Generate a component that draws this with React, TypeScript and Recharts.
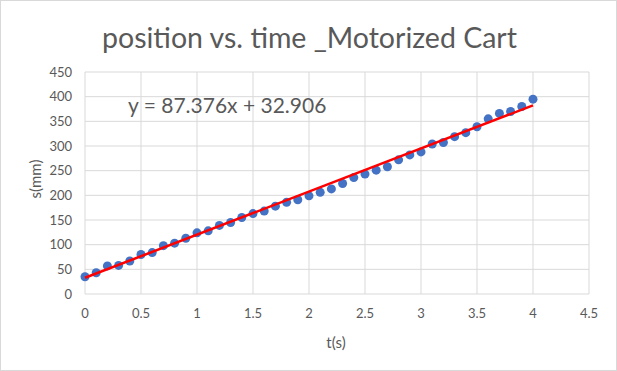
import { ScatterChart, Scatter, XAxis, YAxis, CartesianGrid } from "recharts";

// time (s) of each measurement
const times = [
  0, 0.1, 0.2, 0.3, 0.4, 0.5, 0.6, 0.7, 0.8, 0.9, 1.0, 1.1, 1.2, 1.3, 1.4, 1.5,
  1.6, 1.7, 1.8, 1.9, 2.0, 2.1, 2.2, 2.3, 2.4, 2.5, 2.6, 2.7, 2.8, 2.9, 3.0,
  3.1, 3.2, 3.3, 3.4, 3.5, 3.6, 3.7, 3.8, 3.9, 4.0,
];

// position (mm)
const positions = [
  35, 43, 57, 58, 67, 80, 84, 98, 103, 113, 124, 128, 139, 145, 155, 163, 168,
  178, 186, 191, 199, 206, 213, 224, 236, 243, 251, 258, 272, 282, 288, 304,
  307, 319, 327, 339, 355, 366, 370, 380, 395,
];

// linear trendline end points
const trendTimes = [0, 4];
const trendPositions = [32.906, 382.41];

const xTicks = [0, 0.5, 1, 1.5, 2, 2.5, 3, 3.5, 4, 4.5];
const yTicks = [0, 50, 100, 150, 200, 250, 300, 350, 400, 450];

const points = times.map((t, i) => ({ t, s: positions[i] }));
const trend = trendTimes.map((t, i) => ({ t, s: trendPositions[i] }));

const textColor = "#595959";
const font = "Lato, 'Open Sans', sans-serif";

const Dot = (props: any) => (
  <circle cx={props.cx} cy={props.cy} r={4.5} fill="#4472C4" />
);

export default function App() {
  return (
    <div
      style={{
        position: "absolute",
        left: 0,
        top: 0,
        width: 617,
        height: 371,
        background: "#fff",
        fontFamily: font,
        boxSizing: "border-box",
        border: "1px solid #d9d9d9",
      }}
    >
      <div
        style={{
          position: "absolute",
          left: 0,
          width: 617,
          top: 17,
          textAlign: "center",
          fontSize: 28.5,
          color: textColor,
          lineHeight: "38px",
        }}
      >
        position vs. time _Motorized Cart
      </div>
      <div style={{ position: "absolute", left: -1, top: -1 }}>
        <ScatterChart
          width={617}
          height={371}
          margin={{ top: 72, right: 28, bottom: 47, left: 35 }}
        >
          <CartesianGrid stroke="#d9d9d9" strokeWidth={1} />
          <XAxis
            type="number"
            dataKey="t"
            domain={[0, 4.5]}
            ticks={xTicks}
            axisLine={false}
            tickLine={false}
            tickSize={0}
            tickMargin={15}
            height={30}
            tick={{ fontSize: 13, fill: textColor, fontFamily: font }}
          />
          <YAxis
            type="number"
            dataKey="s"
            domain={[0, 450]}
            ticks={yTicks}
            axisLine={false}
            tickLine={false}
            tickSize={0}
            tickMargin={13}
            width={50}
            tick={{ fontSize: 13, fill: textColor, fontFamily: font }}
          />
          <Scatter
            data={points}
            shape={<Dot />}
            isAnimationActive={false}
          />
          <Scatter
            data={trend}
            line={{ stroke: "#FF0000", strokeWidth: 2.5 }}
            shape={() => <g />}
            isAnimationActive={false}
          />
        </ScatterChart>
      </div>
      <div
        style={{
          position: "absolute",
          left: 127,
          top: 91,
          fontSize: 21,
          color: textColor,
          lineHeight: "26px",
          whiteSpace: "nowrap",
        }}
      >
        y = 87.376x + 32.906
      </div>
      <div
        style={{
          position: "absolute",
          left: 315,
          top: 332,
          width: 40,
          textAlign: "center",
          fontSize: 15,
          color: textColor,
          lineHeight: "18px",
        }}
      >
        t(s)
      </div>
      <div
        style={{
          position: "absolute",
          left: 4,
          top: 169,
          width: 60,
          textAlign: "center",
          fontSize: 15,
          color: textColor,
          lineHeight: "18px",
          transform: "rotate(-90deg)",
        }}
      >
        s(mm)
      </div>
    </div>
  );
}
